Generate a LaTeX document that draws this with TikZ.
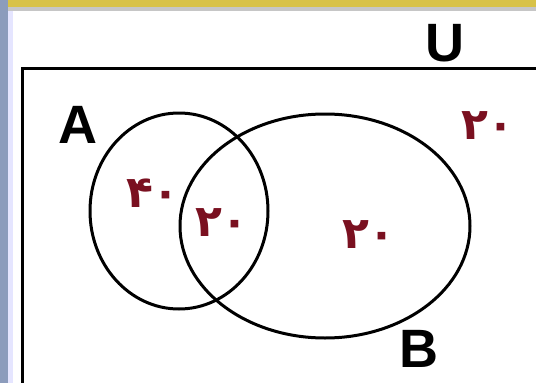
\documentclass[tikz,border=0pt]{standalone}
\usepackage{fontspec}
\setmainfont{Liberation Sans}
\newfontfamily\arabicfont[Script=Arabic]{DejaVu Sans}
\definecolor{numred}{HTML}{7A1020}
\definecolor{topband}{HTML}{D8C248}
\definecolor{leftband}{HTML}{8C9CBC}
\tikzset{
  vline/.style={line width=3pt, black},
  setlabel/.style={font=\fontsize{54}{54}\selectfont\bfseries, inner sep=0pt},
  numlabel/.style={font=\arabicfont\bfseries\fontsize{44}{44}\selectfont, text=numred, inner sep=0pt}
}
\begin{document}
\begin{tikzpicture}[x=1pt,y=-1pt]
\useasboundingbox (0,0) rectangle (536,383);
\fill[white] (0,0) rectangle (536,383);
% window chrome
\fill[topband] (0,0) rectangle (536,7);
\fill[gray!45] (0,7) rectangle (536,11);
\fill[leftband] (0,0) rectangle (8,383);
\fill[blue!10] (8,11) rectangle (13,383);
% universe frame
\coordinate (ubl) at (22,383);
\coordinate (utl) at (22,68);
\coordinate (utr) at (536,68);
\draw[vline] (ubl) -- (utl) -- (utr);
% sets
\draw[vline] (179,211) ellipse [x radius=89, y radius=98];
\draw[vline] (325,226) ellipse [x radius=145, y radius=112];
% labels
\node[setlabel] (U) at (445,43) {U};
\node[setlabel] (A) at (78,125) {A};
\node[setlabel] (B) at (419,349) {B};
% numbers
\node[numlabel] (nA) at (153,193) {۴۰};
\node[numlabel] (nAB) at (222,223) {۲۰};
\node[numlabel] (nB) at (369,235) {۲۰};
\node[numlabel] (nU) at (488,126) {۲۰};
\end{tikzpicture}
\end{document}
